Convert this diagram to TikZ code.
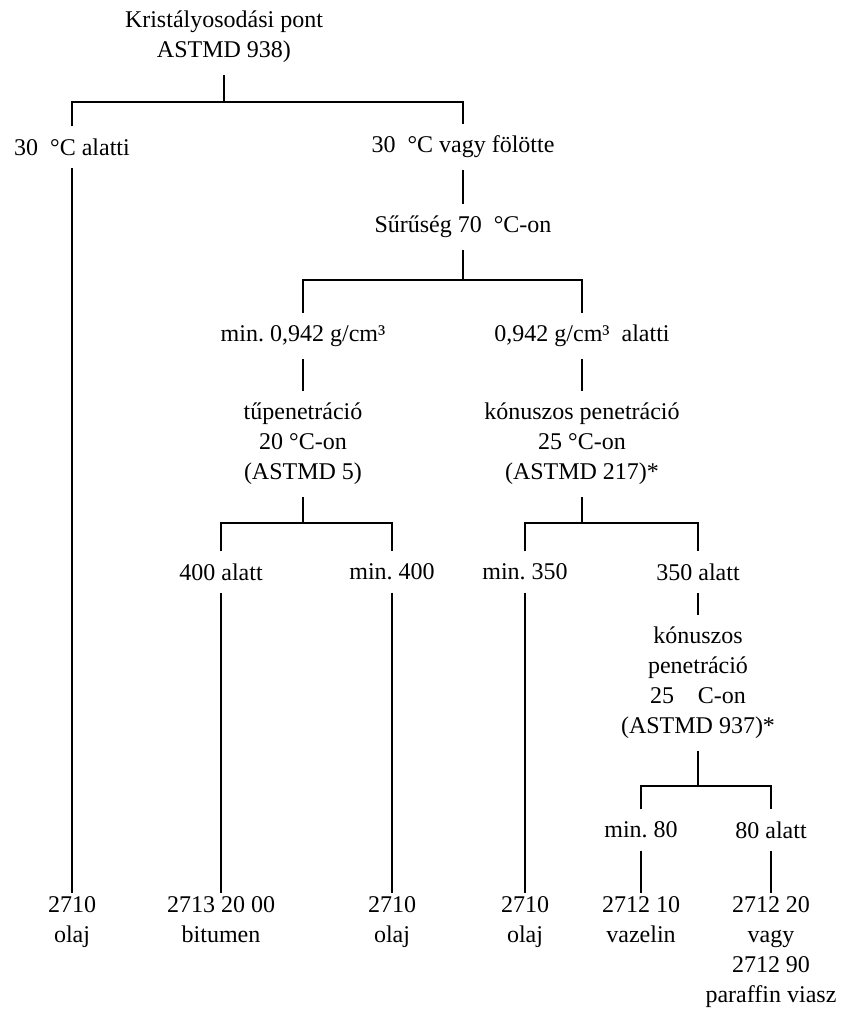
\documentclass[tikz,border=0pt]{standalone}
\usepackage{fontspec}
\setmainfont{Liberation Serif}
\usetikzlibrary{positioning}
\frenchspacing
\tikzstyle{crit} = [align=center, inner xsep=2pt, inner ysep=6pt, font=\fontsize{12}{15}\selectfont]
\tikzstyle{leaf} = [crit, anchor=north, inner ysep=1.5pt]
\tikzstyle{branch} = [line width=1pt]

\begin{document}
\begin{tikzpicture}[node distance=55pt]
	\useasboundingbox (0,0) rectangle (421.5pt,-506pt);
	\node (kp) [crit] at (112pt,-18.5pt) {Kristályosodási pont\\ASTMD 938)};
	\node (bel) [crit, below of=kp, xshift=-76pt] {30~~°C alatti};
	\node (fol) [crit, below of=kp, xshift=119.5pt] {30~~°C vagy fölötte};
	\node (sur) [crit, below of=fol, node distance=40pt] {Sűrűség 70~~°C-on};
	\node (min942) [crit, below of=sur, node distance=54.5pt, xshift=-80pt] {min. 0,942 g/cm³};
	\node (al942) [crit, below of=sur, node distance=54.5pt, xshift=59.5pt] {0,942 g/cm³~~alatti};
	\node (tu) [crit, below of=min942, node distance=54pt] {tűpenetráció\\20~°C-on\\(ASTMD 5)};
	\node (kon) [crit, below of=al942, node distance=54pt] {kónuszos penetráció\\25~°C-on\\(ASTMD 217)*};
	\node (a400) [crit, below of=tu, node distance=64pt, xshift=-41pt] {400 alatt};
	\node (m400) [crit, below of=tu, node distance=64pt, xshift=44.5pt] {min. 400};
	\node (m350) [crit, below of=kon, node distance=64pt, xshift=-28.5pt] {min. 350};
	\node (a350) [crit, below of=kon, node distance=64pt, xshift=58pt] {350 alatt};
	\node (kon2) [crit, below of=a350, node distance=55.5pt] {kónuszos\\penetráció\\25\quad C-on\\(ASTMD 937)*};
	\node (m80) [crit, below of=kon2, node distance=73.5pt, xshift=-28.5pt] {min. 80};
	\node (a80) [crit, below of=kon2, node distance=73.5pt, xshift=36.5pt] {80 alatt};
	\node (o1) [below of=bel, node distance=373pt, leaf] {2710\\olaj};
	\node (bit) [below of=a400, node distance=160.5pt, leaf] {2713 20 00\\bitumen};
	\node (o2) [below of=m400, node distance=160.5pt, leaf] {2710\\olaj};
	\node (o3) [below of=m350, node distance=160.5pt, leaf] {2710\\olaj};
	\node (vaz) [below of=m80, node distance=31.5pt, leaf] {2712 10\\vazelin};
	\node (par) [below of=a80, node distance=31.5pt, leaf] {2712 20\\vagy\\2712 90\\paraffin viasz};
	% junctions of the branch bars
	\coordinate (j1) at ([yshift=-32.5pt]kp.center);
	\coordinate (j2) at ([yshift=-26.5pt]sur.center);
	\coordinate (j3) at ([yshift=-39.5pt]tu.center);
	\coordinate (j4) at ([yshift=-39.5pt]kon.center);
	\coordinate (j5) at ([yshift=-51.5pt]kon2.center);
	\draw [branch] (kp) -- (j1);
	\draw [branch] (bel) |- (j1) -| (fol);
	\draw [branch] (fol) -- (sur);
	\draw [branch] (sur) -- (j2);
	\draw [branch] (min942) |- (j2) -| (al942);
	\draw [branch] (min942) -- (tu);
	\draw [branch] (al942) -- (kon);
	\draw [branch] (tu) -- (j3);
	\draw [branch] (a400) |- (j3) -| (m400);
	\draw [branch] (kon) -- (j4);
	\draw [branch] (m350) |- (j4) -| (a350);
	\draw [branch] (a350) -- (kon2);
	\draw [branch] (kon2) -- (j5);
	\draw [branch] (m80) |- (j5) -| (a80);
	\draw [branch] (bel) -- (o1);
	\draw [branch] (a400) -- (bit);
	\draw [branch] (m400) -- (o2);
	\draw [branch] (m350) -- (o3);
	\draw [branch] (m80) -- (vaz);
	\draw [branch] (a80) -- (par);
\end{tikzpicture}
\end{document}
